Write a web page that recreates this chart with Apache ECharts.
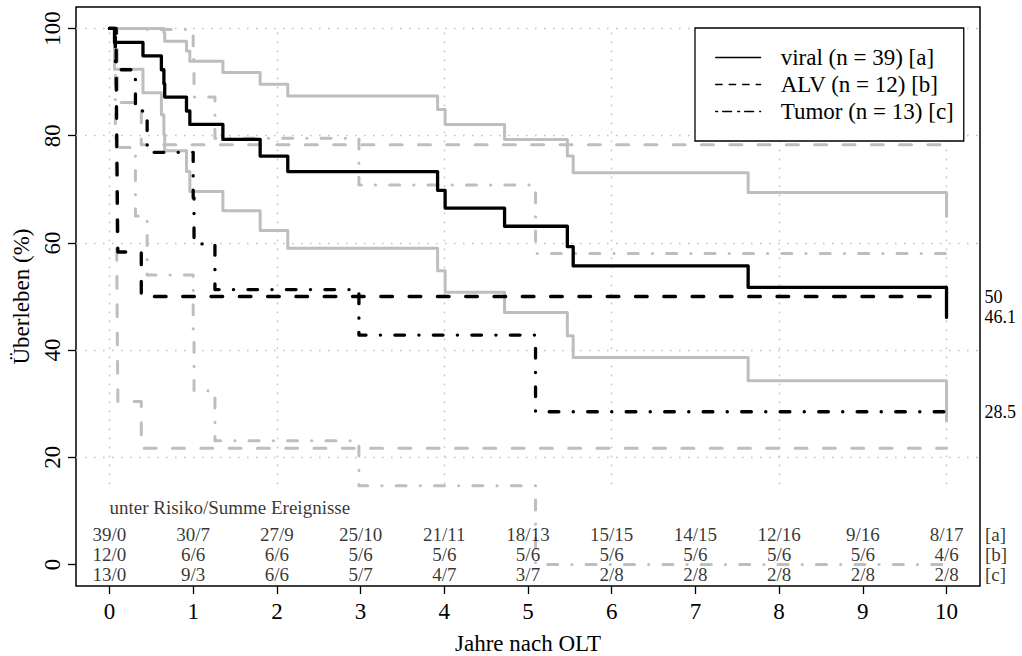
<!DOCTYPE html>
<html>
<head>
<meta charset="utf-8">
<script src="https://cdn.jsdelivr.net/npm/echarts@6/dist/echarts.min.js"></script>
<style>
  html, body { margin: 0; padding: 0; background: #fff; }
  #chart { width: 1022px; height: 656px; }
</style>
</head>
<body>
<div id="chart"></div>
<script>
// Kaplan-Meier survival after liver transplantation (OLT) by indication,
// with pointwise 95% confidence bands (grey) and a numbers-at-risk table.

const xTicks = [0, 1, 2, 3, 4, 5, 6, 7, 8, 9, 10];
const yTicks = [0, 20, 40, 60, 80, 100];

// viral (n = 39)
const viralTime  = [0, 0.06, 0.40, 0.62, 0.65, 0.66, 0.92, 0.96, 1.355, 1.80, 2.13, 3.92, 4.01, 4.72, 5.47, 5.54, 7.63, 10.0];
const viralSurv  = [100, 97.4, 94.9, 92.3, 89.7, 87.2, 84.6, 82.1, 79.3, 76.2, 73.3, 69.8, 66.5, 63.1, 59.3, 55.7, 51.7, 46.1];
const viralUpper = [100, 100, 100, 100, 99.2, 97.6, 95.8, 93.9, 91.8, 89.6, 87.4, 84.9, 82.1, 79.3, 76.2, 73.1, 69.4, 64.9];
const viralLower = [100, 92.4, 88.0, 83.9, 80.2, 77.2, 73.3, 69.6, 66.0, 62.3, 59.0, 54.8, 50.8, 47.0, 42.7, 38.6, 34.3, 26.8];

// ALV (n = 12)
const alvTime  = [0, 0.08, 0.085, 0.09, 0.095, 0.10, 0.38, 10];
const alvSurv  = [100, 91.7, 83.3, 75.0, 66.7, 58.3, 50, 50];
const alvUpper = [100, 100, 100, 99.5, 93.3, 86.2, 78.3, 78.3];
const alvLower = [100, 76.0, 62.2, 50.5, 40.0, 30.4, 21.7, 21.7];

// Tumor (n = 13)
const tumorTime  = [0, 0.07, 0.31, 0.45, 1.00, 1.01, 1.26, 2.98, 5.09, 10];
const tumorSurv  = [100, 92.3, 84.6, 76.9, 68.4, 59.8, 51.3, 42.8, 28.5, 28.5];
const tumorUpper = [100, 100, 100, 99.8, 94.2, 87.2, 79.5, 70.8, 58.0, 58.0];
const tumorLower = [100, 77.8, 65.0, 54.0, 42.6, 32.4, 23.1, 14.7, 0, 0];

// numbers at risk / cumulative events at each full year
const riskTimes = [0, 1, 2, 3, 4, 5, 6, 7, 8, 9, 10];
const riskViral = ['39/0', '30/7', '27/9', '25/10', '21/11', '18/13', '15/15', '14/15', '12/16', '9/16', '8/17'];
const riskAlv   = ['12/0', '6/6', '6/6', '5/6', '5/6', '5/6', '5/6', '5/6', '5/6', '5/6', '4/6'];
const riskTumor = ['13/0', '9/3', '6/6', '5/7', '4/7', '3/7', '2/8', '2/8', '2/8', '2/8', '2/8'];
const rowTags   = ['[a]', '[b]', '[c]'];
const tableTitle = 'unter Risiko/Summe Ereignisse';

const nameViral = 'viral (n = 39) [a]';
const nameAlv   = 'ALV (n = 12) [b]';
const nameTumor = 'Tumor (n = 13) [c]';

// ---- layout & style ----
const FONT = '"Liberation Serif", "Times New Roman", serif';
const GREY = '#bebebe';
const ROW_Y = [5.6, 1.86, -1.86];   // table rows, in axis units
const TITLE_Y = 10.6;
const TAG_X = 10.46;

const DASH_BLACK = [11.7, 16.6];
const DOTDASH_BLACK = [0.2, 14.3, 9.7, 14.3];
const DASH_GREY = [12, 16.3];
const DOTDASH_GREY = [0.2, 14.1, 10, 14.1];

function steps(t, v) { return t.map((x, i) => [x, v[i]]); }

function kmLine(name, t, v, color, width, dash, extra) {
  return Object.assign({
    name: name,
    type: 'line',
    step: 'end',
    symbol: 'none',
    silent: true,
    data: steps(t, v),
    lineStyle: { color: color, width: width, type: dash || 'solid', cap: 'round', join: 'round' },
    z: color === GREY ? 2 : 3
  }, extra || {});
}

const endLabel = {
  show: true,
  formatter: p => String(p.value[1]),
  distance: 38,
  color: '#000',
  fontSize: 18,
  fontFamily: FONT
};

function textSeries(data, align) {
  return {
    type: 'scatter',
    silent: true,
    clip: false,
    symbolSize: 1,
    itemStyle: { color: 'rgba(0,0,0,0)' },
    data: data,
    label: {
      show: true,
      position: 'inside',
      align: align,
      verticalAlign: 'middle',
      formatter: p => p.value[2],
      color: '#000',
      fontSize: 19,
      fontFamily: FONT
    },
    z: 5
  };
}

const tableRows = [riskViral, riskAlv, riskTumor];
const tableCells = [];
tableRows.forEach((row, r) => row.forEach((txt, i) => tableCells.push([riskTimes[i], ROW_Y[r], txt])));
const tagCells = rowTags.map((tag, r) => [TAG_X, ROW_Y[r], tag]);

// dotted reference grid
const gridLines = [];
[20, 40, 60, 80, 100].forEach(y => gridLines.push({ yAxis: y }));
[0, 2, 4, 6, 8, 10].forEach(x => gridLines.push([{ coord: [x, 15] }, { coord: [x, 100] }]));

const chart = echarts.init(document.getElementById('chart'), null, { renderer: 'svg' });

chart.setOption({
  animation: false,
  backgroundColor: '#fff',
  textStyle: { fontFamily: FONT, color: '#000' },
  grid: {
    left: 76, right: 42, top: 7, bottom: 70,
    show: true, borderColor: '#000', borderWidth: 1.5,
    backgroundColor: 'transparent',
    containLabel: false,
    outerBoundsMode: 'none'
  },
  legend: {
    data: [
      { name: nameViral, lineStyle: { color: '#000', width: 1.3, type: 'solid' } },
      { name: nameAlv,   lineStyle: { color: '#000', width: 1.3, type: [6.5, 7] } },
      { name: nameTumor, lineStyle: { color: '#000', width: 1.3, type: [2, 5, 9, 6] } }
    ],
    orient: 'vertical',
    left: 695, top: 28,
    padding: [18, 10, 18, 20],
    itemWidth: 45, itemHeight: 23, itemGap: 4,
    backgroundColor: '#fff',
    borderColor: '#000', borderWidth: 1.3, borderRadius: 0,
    itemStyle: { opacity: 0 },
    selectedMode: false,
    textStyle: { fontFamily: FONT, fontSize: 23, color: '#000', padding: [0, 0, 0, 15] }
  },
  xAxis: {
    type: 'value',
    min: -0.4, max: 10.4,
    name: 'Jahre nach OLT',
    nameLocation: 'middle', nameGap: 46,
    nameTextStyle: { fontFamily: FONT, fontSize: 23, color: '#000' },
    axisLine: { show: false, onZero: false },
    splitLine: { show: false },
    axisTick: { show: true, customValues: xTicks, length: 8, lineStyle: { color: '#000', width: 1.3 } },
    axisLabel: { show: true, customValues: xTicks, margin: 14, fontFamily: FONT, fontSize: 23, color: '#000' }
  },
  yAxis: {
    type: 'value',
    min: -4, max: 104,
    name: 'Überleben (%)',
    nameLocation: 'middle', nameGap: 39,
    nameTextStyle: { fontFamily: FONT, fontSize: 23, color: '#000' },
    axisLine: { show: false, onZero: false },
    splitLine: { show: false },
    axisTick: { show: true, customValues: yTicks, length: 8, lineStyle: { color: '#000', width: 1.3 } },
    axisLabel: { show: true, customValues: yTicks, rotate: 90, margin: 12, fontFamily: FONT, fontSize: 23, color: '#000' }
  },
  series: [
    kmLine('viral-upper', viralTime, viralUpper, GREY, 3, 'solid', {
      markLine: {
        silent: true,
        symbol: ['none', 'none'],
        label: { show: false },
        lineStyle: { color: '#c4c4c4', width: 1.4, type: [1.6, 7.4] },
        data: gridLines,
        z: 1
      }
    }),
    kmLine('viral-lower', viralTime, viralLower, GREY, 3, 'solid'),
    kmLine('alv-upper', alvTime, alvUpper, GREY, 3, DASH_GREY),
    kmLine('alv-lower', alvTime, alvLower, GREY, 3, DASH_GREY),
    kmLine('tumor-upper', tumorTime, tumorUpper, GREY, 3, DOTDASH_GREY),
    kmLine('tumor-lower', tumorTime, tumorLower, GREY, 3, DOTDASH_GREY),
    kmLine(nameTumor, tumorTime, tumorSurv, '#000', 3.3, DOTDASH_BLACK, { endLabel: endLabel }),
    kmLine(nameAlv, alvTime, alvSurv, '#000', 3.3, DASH_BLACK, { endLabel: endLabel }),
    kmLine(nameViral, viralTime, viralSurv, '#000', 3.3, 'solid', { endLabel: endLabel }),
    textSeries([[0, TITLE_Y, tableTitle]], 'left'),
    textSeries(tableCells, 'center'),
    textSeries(tagCells, 'left')
  ]
});
</script>
</body>
</html>
